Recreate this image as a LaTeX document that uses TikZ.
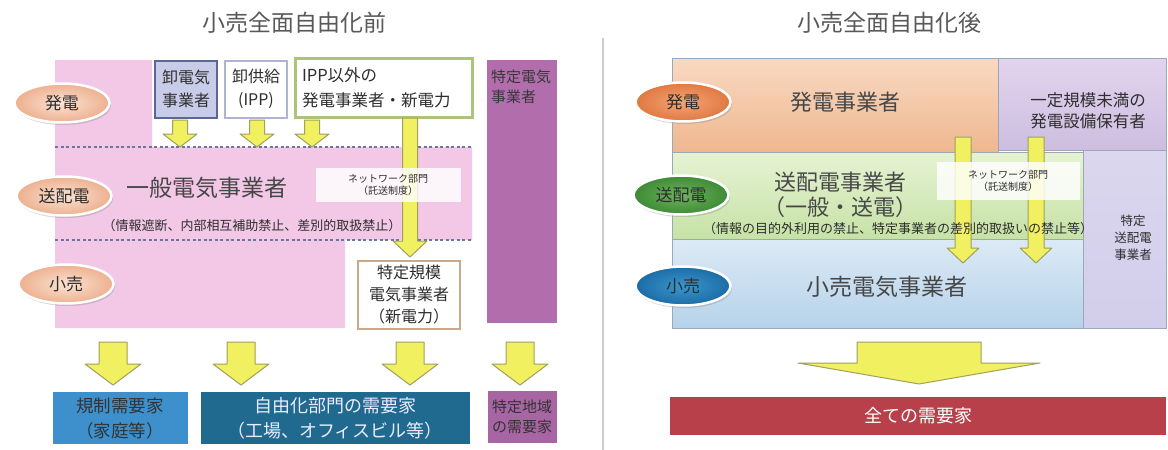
\documentclass[tikz,border=0pt]{standalone}
\usepackage{fontspec}
\setmainfont{Noto Sans CJK JP}
\usetikzlibrary{shapes.geometric,shadows}
\definecolor{txt}{HTML}{2E2E2E}
\definecolor{pinkc}{HTML}{F2C8E6}
\definecolor{boxlav}{HTML}{C9CCE8}
\definecolor{boxlavd}{HTML}{5B6894}
\definecolor{ippb}{HTML}{B0B4D0}
\definecolor{greenb}{HTML}{AEC27A}
\definecolor{tanb}{HTML}{C9A98A}
\definecolor{purpcol}{HTML}{B26EAC}
\definecolor{blueA}{HTML}{3E90CC}
\definecolor{blueB}{HTML}{1F6A8E}
\definecolor{purpbox}{HTML}{A865A4}
\definecolor{arrf}{HTML}{F0F060}
\definecolor{arrd}{HTML}{A0A060}
\definecolor{dashc}{HTML}{6878A0}
\definecolor{orT}{HTML}{F9D9C2}
\definecolor{orB}{HTML}{EFB78F}
\definecolor{puT}{HTML}{E2D4EE}
\definecolor{puB}{HTML}{CDBEE0}
\definecolor{grT}{HTML}{E6F3D4}
\definecolor{grB}{HTML}{C6E2A6}
\definecolor{blT}{HTML}{DCEAF5}
\definecolor{blB}{HTML}{B6D2EA}
\definecolor{pu2}{HTML}{D2CDEA}
\definecolor{redbar}{HTML}{B8404A}
\definecolor{sepc}{HTML}{CCCCCC}
\definecolor{edgec}{HTML}{9AA8B8}
\definecolor{peachI}{HTML}{FBE3D3}
\definecolor{peachO}{HTML}{EDB08F}
\definecolor{orI}{HTML}{F3A57A}
\definecolor{orO}{HTML}{E07840}
\definecolor{gnI}{HTML}{6FB45F}
\definecolor{gnO}{HTML}{3E8A34}
\definecolor{bnI}{HTML}{3A96CC}
\definecolor{bnO}{HTML}{1C6CA6}
\newcommand{\DnArrow}[6]{%
  \filldraw[blockarr] (#1-#4,#2) -- (#1+#4,#2) -- (#1+#4,#3-#6) -- (#1+#5,#3-#6)
    -- (#1,#3) -- (#1-#5,#3-#6) -- (#1-#4,#3-#6) -- cycle;}
\tikzset{
  blockarr/.style={fill=arrf, draw=arrd, line width=1pt, line join=round},
  lbl/.style={ellipse, minimum width=95pt, minimum height=39pt, draw=white,
    line width=2.5pt, text=txt, font=\fontsize{17}{17}\selectfont,
    drop shadow={shadow xshift=1.5pt, shadow yshift=-2.5pt, opacity=0.3}},
  ttl/.style={text=black!65, font=\fontsize{23}{23}\selectfont},
  big/.style={text=black!72, font=\fontsize{22}{27}\selectfont, align=center},
  mid/.style={text=txt, font=\fontsize{16}{23}\selectfont, align=center},
  sml/.style={text=txt, font=\fontsize{13}{13}\selectfont},
  tiny/.style={text=txt, font=\fontsize{10}{12}\selectfont, align=center},
  dline/.style={dashc, line width=1.6pt, dash pattern=on 3pt off 2.5pt},
}
\begin{document}
\begin{tikzpicture}[x=1pt,y=-1pt]
\useasboundingbox (0,0) rectangle (1168,450);
\fill[white] (0,0) rectangle (1168,450);

% ---------- titles and separator
\node[ttl] (tl) at (294,23) {小売全面自由化前};
\node[ttl] (tr) at (889,23) {小売全面自由化後};
\draw[sepc, line width=1.5pt] (603,38) -- (603,450);

% ================= LEFT =================
\fill[pinkc] (55,60) -- (152,60) -- (152,147) -- (472,147) -- (472,240)
  -- (345,240) -- (345,328) -- (55,328) -- cycle;
\draw[dline] (55,147) -- (472,147);
\draw[dline] (55,240) -- (472,240);

\node[draw=boxlavd, fill=boxlav, line width=2pt, minimum width=62pt, minimum height=57pt,
  mid] (oroshi) at (186,89) {卸電気\\事業者};
\node[draw=ippb, fill=white, line width=2pt, minimum width=62pt, minimum height=57pt,
  mid] (ipp) at (256,89) {卸供給\\(IPP)};
\node[draw=greenb, fill=white, line width=2.5pt, minimum width=177pt, minimum height=59pt,
  text width=164pt, align=left, text=txt, font=\fontsize{16.5}{25}\selectfont]
  (other) at (384,88) {IPP以外の\\発電事業者・新電力};

\fill[purpcol] (487,60) rectangle (557,323);
\node[anchor=north west, text=black!78, font=\fontsize{15}{20}\selectfont, align=left,
  inner sep=0pt] (tokutei) at (491,70) {特定電気\\事業者};

\DnArrow{180}{120}{147}{7.5}{17}{13}
\DnArrow{257}{120}{147}{7.5}{17}{13}
\DnArrow{312}{120}{147}{7.5}{17}{13}
\DnArrow{410}{118}{257}{7.5}{17}{16}

\node[fill=white, fill opacity=0.82, text opacity=1, minimum width=145pt, minimum height=34pt,
  tiny] (netL) at (388,185) {ネットワーク部門\\（託送制度）};

\node[big, font=\fontsize{23}{23}\selectfont] (ippan) at (207,188) {一般電気事業者};
\node[sml] (noteL) at (252,226) {（情報遮断、内部相互補助禁止、差別的取扱禁止）};

\node[draw=tanb, fill=white, line width=2pt, minimum width=102pt, minimum height=68pt,
  mid, font=\fontsize{16}{22}\selectfont] (pps) at (409,295) {特定規模\\電気事業者\\（新電力）};

\node[lbl, inner color=peachI, outer color=peachO] (hatsuL) at (62,103) {発電};
\node[lbl, inner color=peachI, outer color=peachO] (souL) at (64,196) {送配電};
\node[lbl, inner color=peachI, outer color=peachO] (kouL) at (66,284) {小売};

\DnArrow{113}{342}{385}{14}{28}{21}
\DnArrow{241}{342}{385}{14}{28}{21}
\DnArrow{410}{342}{385}{14}{28}{21}
\DnArrow{520}{342}{385}{14}{28}{21}

\node[fill=blueA, minimum width=135pt, minimum height=52pt, inner sep=0pt,
  mid, text=black!80, font=\fontsize{17.5}{25}\selectfont] (kisei) at (120,418) {規制需要家\\（家庭等）};
\node[fill=blueB, minimum width=269pt, minimum height=52pt, inner sep=0pt,
  mid, text=white!92!blue, font=\fontsize{18}{25}\selectfont] (jiyu) at (335,418) {自由化部門の需要家\\（工場、オフィスビル等）};
\node[fill=purpbox, minimum width=69pt, minimum height=52pt, inner sep=0pt,
  mid, text=black!80, font=\fontsize{15}{20}\selectfont] (chiiki) at (522,417) {特定地域\\の需要家};

% ================= RIGHT =================
\draw[edgec, line width=0.8pt, top color=orT, bottom color=orB] (672,58) rectangle (998,152);
\draw[edgec, line width=0.8pt, top color=puT, bottom color=puB] (998,58) rectangle (1166,150);
\draw[edgec, line width=0.8pt, top color=grT, bottom color=grB] (672,152) rectangle (1083,239);
\draw[edgec, line width=0.8pt, top color=pu2!80!white, bottom color=pu2] (1083,150) rectangle (1166,328);
\draw[edgec, line width=0.8pt, top color=blT, bottom color=blB] (672,239) rectangle (1083,328);

\node[big] (hatsuJ) at (845,102) {発電事業者};
\node[mid, font=\fontsize{16.5}{21}\selectfont] (small) at (1088,111) {一定規模未満の\\発電設備保有者};
\node[big, font=\fontsize{22}{25}\selectfont] (soujig) at (840,195) {送配電事業者\\（一般・送電）};
\node[mid, font=\fontsize{12.5}{17}\selectfont] (tokuso) at (1133,238) {特定\\送配電\\事業者};
\node[big, font=\fontsize{23}{23}\selectfont] (kouriJ) at (887,287) {小売電気事業者};

\DnArrow{963}{137}{263}{8}{16}{15}
\DnArrow{1036}{137}{263}{8}{16}{15}

\node[fill=white, fill opacity=0.82, text opacity=1, minimum width=143pt, minimum height=38pt,
  tiny] (netR) at (1008,181) {ネットワーク部門\\（託送制度）};
\node[sml] (noteR) at (898,229) {（情報の目的外利用の禁止、特定事業者の差別的取扱いの禁止等）};

\node[lbl, inner color=orI, outer color=orO] (hatsuR) at (683,102) {発電};
\node[lbl, inner color=gnI, outer color=gnO] (souR) at (681,195) {送配電};
\node[lbl, inner color=bnI, outer color=bnO] (kouR) at (683,286) {小売};

\DnArrow{919}{342}{384}{62}{121}{21}

\node[fill=redbar, minimum width=496pt, minimum height=38pt, inner sep=0pt,
  text=white, font=\fontsize{18}{18}\selectfont] (all) at (918,416) {全ての需要家};
\end{tikzpicture}
\end{document}
